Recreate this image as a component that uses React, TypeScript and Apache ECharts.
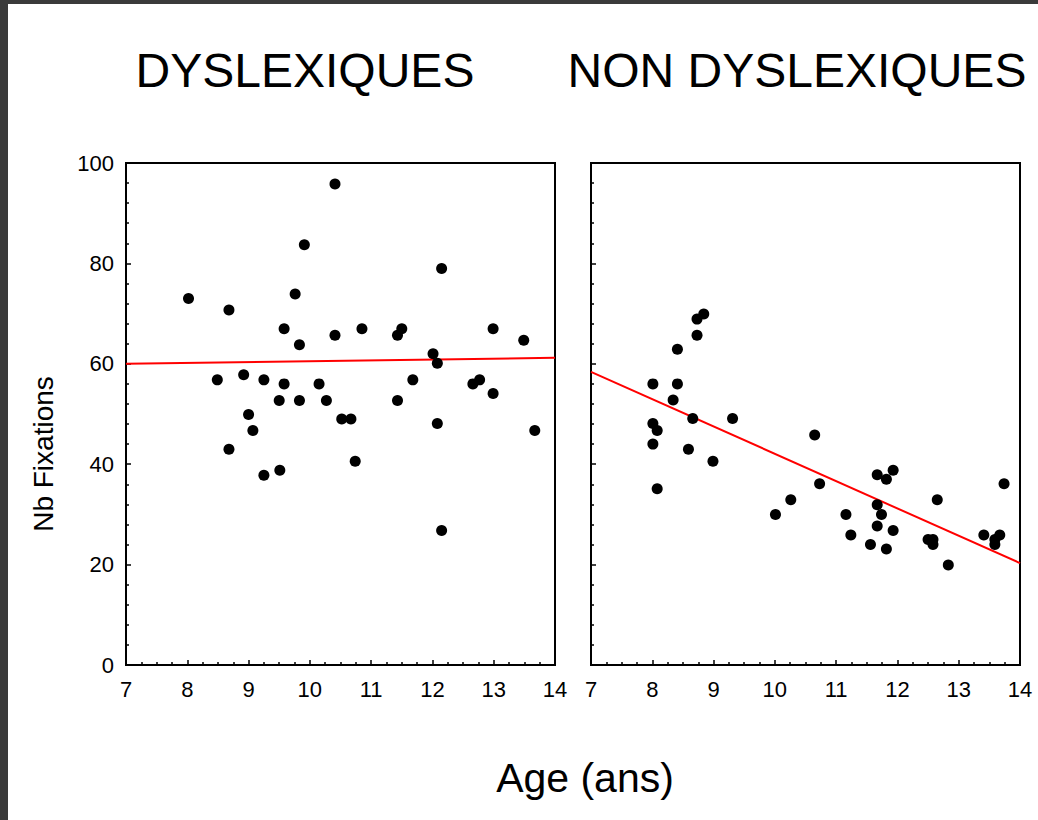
import React, { useEffect, useRef } from "react";
import * as echarts from "echarts";

// DYSLEXIQUES
const dysAge = [8.02, 8.68, 10.41, 9.91, 12.15, 9.76, 9.58, 9.83, 10.41, 10.85, 11.43, 11.5, 12.99, 13.49, 12.01, 12.08, 8.49, 8.92, 9.25, 9.58, 9.5, 9.83, 10.15, 10.27, 11.43, 11.68, 12.66, 12.77, 12.99, 9.0, 9.07, 10.52, 10.67, 12.08, 13.67, 8.68, 10.74, 9.25, 9.51, 12.15];
const dysFix = [73.0, 70.7, 95.8, 83.7, 79.0, 73.9, 67.0, 63.8, 65.7, 67.0, 65.7, 67.0, 67.0, 64.7, 62.0, 60.1, 56.8, 57.8, 56.8, 56.0, 52.7, 52.7, 56.0, 52.7, 52.7, 56.8, 56.0, 56.8, 54.1, 49.9, 46.7, 49.0, 49.0, 48.1, 46.7, 43.0, 40.6, 37.8, 38.8, 26.8];
// NON DYSLEXIQUES
const nonAge = [8.84, 8.73, 8.73, 8.41, 8.01, 8.41, 8.34, 8.66, 9.31, 8.01, 8.08, 8.01, 8.59, 8.99, 8.08, 10.65, 10.73, 10.26, 10.01, 11.16, 11.24, 11.67, 11.82, 11.93, 11.67, 11.74, 11.67, 11.93, 11.56, 11.82, 12.65, 12.5, 12.58, 12.58, 12.83, 13.41, 13.59, 13.59, 13.67, 13.74];
const nonFix = [69.9, 68.9, 65.7, 62.9, 56.0, 56.0, 52.8, 49.1, 49.1, 48.1, 46.7, 44.0, 43.0, 40.6, 35.1, 45.8, 36.1, 32.9, 30.0, 30.0, 25.9, 37.9, 37.0, 38.8, 31.9, 30.0, 27.7, 26.8, 24.0, 23.1, 32.9, 25.0, 25.0, 24.0, 19.9, 25.9, 24.0, 25.0, 25.9, 36.1];

// regression lines (endpoints)
const fitAge = [7, 14];
const dysFit = [60.0, 61.2];
const nonFit = [58.4, 20.3];

const titles = ["DYSLEXIQUES", "NON DYSLEXIQUES"];
const yName = "Nb Fixations";
const xName = "Age (ans)";

const FONT = "'Liberation Sans', Arial, sans-serif";

export default function App() {
  const ref = useRef<HTMLDivElement>(null);
  useEffect(() => {
    if (!ref.current) return;
    const chart = echarts.init(ref.current, null, { renderer: "svg" });
    const zip = (a: number[], b: number[]) => a.map((v, i) => [v, b[i]]);
    const xAxisBase = (gi: number) => ({
      type: "value",
      gridIndex: gi,
      min: 7,
      max: 14,
      interval: 1,
      axisLine: { show: true, onZero: false, lineStyle: { color: "#000", width: 2 } },
      axisTick: { show: true, inside: true, length: 5, lineStyle: { color: "#000", width: 1.5 } },
      minorTick: { show: true, splitNumber: 4, length: 3, lineStyle: { color: "#000", width: 1.5 } },
      splitLine: { show: false },
      minorSplitLine: { show: false },
      axisLabel: { color: "#000", fontSize: 22, fontFamily: FONT, margin: 13 },
    });
    const yAxisBase = (gi: number, showLabel: boolean) => ({
      type: "value",
      gridIndex: gi,
      min: 0,
      max: 100,
      interval: 20,
      axisLine: { show: true, onZero: false, lineStyle: { color: "#000", width: 2 } },
      axisTick: { show: true, inside: true, length: 5, lineStyle: { color: "#000", width: 1.5 } },
      minorTick: { show: true, splitNumber: 5, length: 3, lineStyle: { color: "#000", width: 1.5 } },
      splitLine: { show: false },
      minorSplitLine: { show: false },
      axisLabel: { show: showLabel, color: "#000", fontSize: 22, fontFamily: FONT, margin: 12 },
    });
    const scatter = (gi: number, data: number[][]) => ({
      type: "scatter",
      xAxisIndex: gi,
      yAxisIndex: gi,
      data,
      symbol: "circle",
      symbolSize: 11,
      itemStyle: { color: "#000", opacity: 1 },
      z: 3,
    });
    const fit = (gi: number, data: number[][]) => ({
      type: "line",
      xAxisIndex: gi,
      yAxisIndex: gi,
      data,
      symbol: "none",
      lineStyle: { color: "#ff0000", width: 2 },
      z: 2,
    });
    chart.setOption({
      animation: false,
      backgroundColor: "#fff",
      grid: [
        { left: 126, top: 163, width: 429, height: 502, show: true, borderColor: "#000", borderWidth: 2, backgroundColor: "#fff" },
        { left: 591, top: 163, width: 429, height: 502, show: true, borderColor: "#000", borderWidth: 2, backgroundColor: "#fff" },
      ],
      xAxis: [xAxisBase(0), xAxisBase(1)],
      yAxis: [yAxisBase(0, true), yAxisBase(1, false)],
      series: [
        fit(0, zip(fitAge, dysFit)),
        scatter(0, zip(dysAge, dysFix)),
        fit(1, zip(fitAge, nonFit)),
        scatter(1, zip(nonAge, nonFix)),
      ],
      graphic: [
        { type: "rect", shape: { x: 0, y: 0, width: 8, height: 820 }, style: { fill: "#3a3a3a" }, silent: true },
        { type: "rect", shape: { x: 0, y: 0, width: 1038, height: 4 }, style: { fill: "#3a3a3a" }, silent: true },
        { type: "text", x: 305, y: 70, style: { text: titles[0], fill: "#000", font: `48px ${FONT}`, textAlign: "center", textVerticalAlign: "middle" } },
        { type: "text", x: 797, y: 70, style: { text: titles[1], fill: "#000", font: `48px ${FONT}`, textAlign: "center", textVerticalAlign: "middle" } },
        { type: "text", x: 43, y: 454, rotation: Math.PI / 2, style: { text: yName, fill: "#000", font: `28px ${FONT}`, textAlign: "center", textVerticalAlign: "middle" } },
        { type: "text", x: 585, y: 778, style: { text: xName, fill: "#000", font: `41px ${FONT}`, textAlign: "center", textVerticalAlign: "middle" } },
      ],
    });
    return () => chart.dispose();
  }, []);
  return <div ref={ref} style={{ position: "fixed", left: 0, top: 0, width: 1038, height: 820 }} />;
}
